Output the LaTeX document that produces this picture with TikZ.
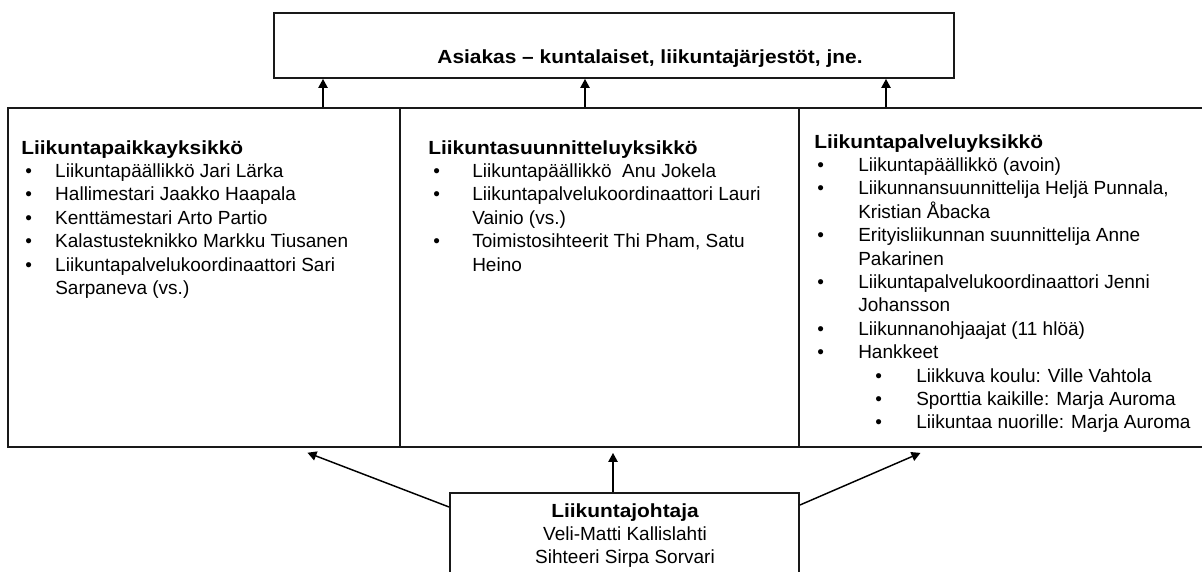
\documentclass[tikz,border=0pt]{standalone}
\usepackage{fontspec}
\setmainfont{Liberation Sans}
% slightly widened face for the bold headings
\newfontfamily\hdfont[FakeStretch=1.1]{Liberation Sans}
\usetikzlibrary{arrows.meta,fit}
% bullet: left indent, then a fixed-width bullet column
\newcommand{\bul}[2]{\hspace*{#1}\makebox[#2][l]{\textbullet}}
\begin{document}
\begin{tikzpicture}[x=0.75pt,y=-0.75pt,
  frame/.style={draw=black!90,line width=1.4pt,inner sep=0pt},
  arr/.style={draw=black,line width=1.1pt,-{Triangle[length=6.75pt,width=7pt]}},
  txt/.style={inner sep=0pt,anchor=base west,font=\fontsize{14.25pt}{17.55pt}\selectfont}]
\useasboundingbox (0,0) rectangle (1202,571);
\clip (0,0) rectangle (1202,571);

% boxes
\node[frame,fit={(274,13) (954,78)}] (cust) {};
\node[frame,fit={(8,108) (400,447)}] (u1) {};
\node[frame,fit={(400,108) (799,447)}] (u2) {};
\node[frame,fit={(799,108) (1206,447)}] (u3) {};
\node[frame,fit={(450,493) (799,620)}] (boss) {};

% texts
\node[txt,anchor=base] (custtext) at (650,63)
  {\hdfont\bfseries Asiakas – kuntalaiset, liikuntajärjestöt, jne.};

\node[txt] (t1) at (21,154) {\parbox[t]{300pt}{%
  {\hdfont\bfseries Liikuntapaikkayksikkö}\par
  \bul{3pt}{22.5pt}Liikuntapäällikkö Jari Lärka\par
  \bul{3pt}{22.5pt}Hallimestari Jaakko Haapala\par
  \bul{3pt}{22.5pt}Kenttämestari Arto Partio\par
  \bul{3pt}{22.5pt}Kalastusteknikko Markku Tiusanen\par
  \bul{3pt}{22.5pt}Liikuntapalvelukoordinaattori Sari\par
  \hspace*{25.5pt}Sarpaneva (vs.)}};

\node[txt] (t2) at (428,154) {\parbox[t]{300pt}{%
  {\hdfont\bfseries Liikuntasuunnitteluyksikkö}\par
  \bul{3.75pt}{29.25pt}Liikuntapäällikkö\ \ Anu Jokela\par
  \bul{3.75pt}{29.25pt}Liikuntapalvelukoordinaattori Lauri\par
  \hspace*{33pt}Vainio (vs.)\par
  \bul{3.75pt}{29.25pt}Toimistosihteerit Thi Pham, Satu\par
  \hspace*{33pt}Heino}};

\node[txt] (t3) at (814,148) {\parbox[t]{300pt}{%
  {\hdfont\bfseries Liikuntapalveluyksikkö}\par
  \bul{2.25pt}{30.75pt}Liikuntapäällikkö (avoin)\par
  \bul{2.25pt}{30.75pt}Liikunnansuunnittelija Heljä Punnala,\par
  \hspace*{33pt}Kristian Åbacka\par
  \bul{2.25pt}{30.75pt}Erityisliikunnan suunnittelija Anne\par
  \hspace*{33pt}Pakarinen\par
  \bul{2.25pt}{30.75pt}Liikuntapalvelukoordinaattori Jenni\par
  \hspace*{33pt}Johansson\par
  \bul{2.25pt}{30.75pt}Liikunnanohjaajat (11 hlöä)\par
  \bul{2.25pt}{30.75pt}Hankkeet\par
  \bul{45.75pt}{30.75pt}Liikkuva koulu: Ville Vahtola\par
  \bul{45.75pt}{30.75pt}Sporttia kaikille: Marja Auroma\par
  \bul{45.75pt}{30.75pt}Liikuntaa nuorille: Marja Auroma}};

\node[txt,anchor=base] (bosstext) at (625,517) {\parbox[t]{250pt}{\centering
  {\hdfont\bfseries Liikuntajohtaja}\par
  Veli-Matti Kallislahti\par
  Sihteeri Sirpa Sorvari}};

% units report upwards to the customer box
\coordinate (a1) at (323,0);
\coordinate (a2) at (585,0);
\coordinate (a3) at (886,0);
\draw[arr] (u1.north -| a1) -- (cust.south -| a1);
\draw[arr] (u2.north -| a2) -- (cust.south -| a2);
\draw[arr] (u3.north -| a3) -- (cust.south -| a3);

% director leads the three units
\coordinate (sL) at (0,507);
\coordinate (tL) at (295,0);
\coordinate (m) at (613,0);
\coordinate (sR) at (0,505);
\coordinate (tR) at (932,0);
\draw[arr,shorten >=10pt] (boss.west |- sL) -- (u1.south -| tL);
\draw[arr,shorten >=3.75pt] (boss.north -| m) -- (u2.south -| m);
\draw[arr,shorten >=9.4pt] (boss.east |- sR) -- (u3.south -| tR);
\end{tikzpicture}
\end{document}
